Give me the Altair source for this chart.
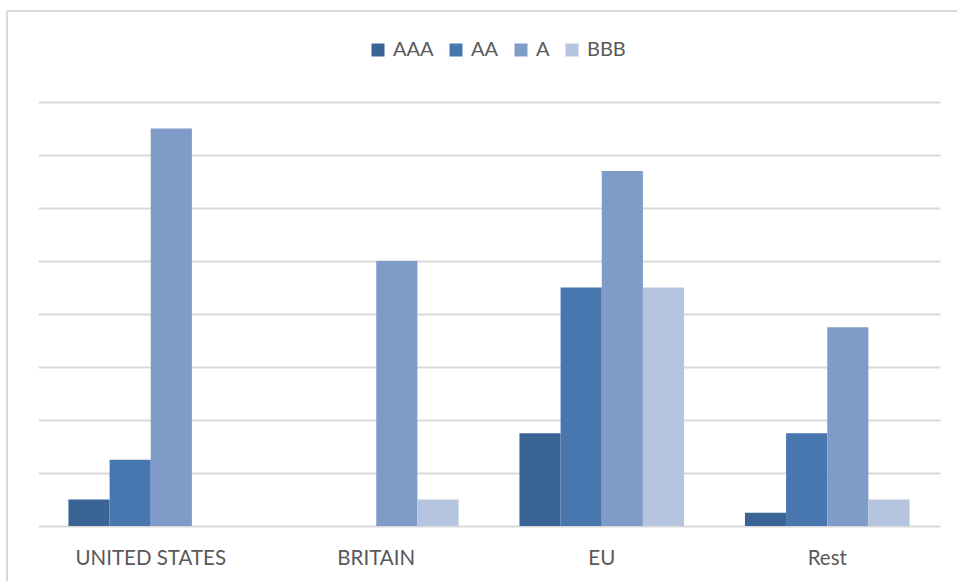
import altair as alt
import pandas as pd

# Regions and rating grades
regions = ["UNITED STATES", "BRITAIN", "EU", "Rest"]
grades = ["AAA", "AA", "A", "BBB"]
grade_colors = ["#3b6496", "#4877b0", "#7f9cc8", "#b5c4df"]

# Values per grade, one entry per region
aaa = [0.5, 0.0, 1.75, 0.25]
aa = [1.25, 0.0, 4.5, 1.75]
a = [7.5, 5.0, 6.7, 3.75]
bbb = [0.0, 0.5, 4.5, 0.5]

series = {"AAA": aaa, "AA": aa, "A": a, "BBB": bbb}
rows = []
for g in grades:
    for r, v in zip(regions, series[g]):
        rows.append({"region": r, "grade": g, "value": v})
df = pd.DataFrame(rows)

FONT = "Lato"
TEXT = "#595959"
GRID = "#d9d9d9"

bars = alt.Chart(df).mark_bar().encode(
    x=alt.X(
        "region:N",
        sort=regions,
        scale=alt.Scale(paddingInner=0.27, paddingOuter=0.135),
        axis=alt.Axis(
            title=None, labelAngle=0, domain=False, ticks=False,
            labelFont=FONT, labelFontSize=20.5, labelColor=TEXT, labelPadding=22,
        ),
    ),
    xOffset=alt.XOffset("grade:N", sort=grades, scale=alt.Scale(paddingInner=0, paddingOuter=0)),
    y=alt.Y(
        "value:Q",
        scale=alt.Scale(domain=[0, 8], nice=False),
        axis=alt.Axis(
            title=None, labels=False, ticks=False, domain=False,
            values=list(range(0, 9)), grid=True, gridColor=GRID, gridWidth=2,
        ),
    ),
    color=alt.Color(
        "grade:N",
        sort=grades,
        scale=alt.Scale(domain=grades, range=grade_colors),
        legend=alt.Legend(
            title=None, orient="none", direction="horizontal",
            legendX=330, legendY=-62,
            symbolType="square", symbolSize=169, symbolStrokeWidth=0,
            labelFont=FONT, labelFontSize=20, labelColor=TEXT,
            labelOffset=5, columnPadding=12,
        ),
    ),
)

# Light outer frame of the chart
frame_left = alt.Chart(df).mark_rule(color=GRID, strokeWidth=2).encode(
    x=alt.value(-31), y=alt.value(-91), y2=alt.value(479)
)
frame_top = alt.Chart(df).mark_rule(color=GRID, strokeWidth=2).encode(
    x=alt.value(-31), x2=alt.value(919), y=alt.value(-91)
)

chart = alt.layer(frame_left, frame_top, bars).properties(
    width=902,
    height=424,
    autosize=alt.AutoSizeParams(type="none"),
    padding={"left": 38, "top": 102, "right": 17, "bottom": 55},
    background="white",
).configure_view(stroke=None)

chart.save("out.html", embed_options={"renderer": "svg", "actions": False})
